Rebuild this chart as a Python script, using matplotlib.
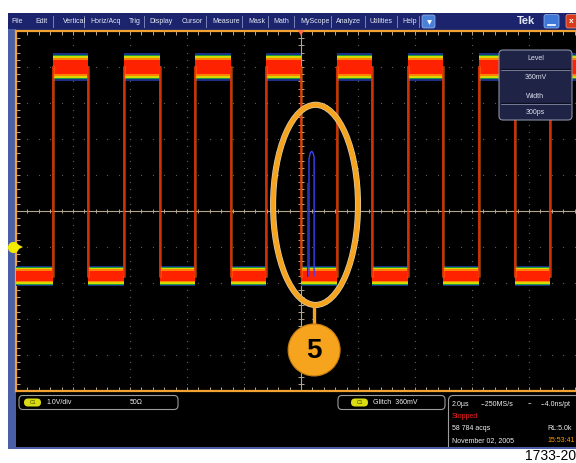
import numpy as np
import matplotlib.pyplot as plt
from matplotlib.patches import Rectangle, FancyBboxPatch, Ellipse

plt.rcParams['font.family'] = ['Liberation Sans', 'DejaVu Sans']

# ---- data (time in us, level in V, 2 us/div, 1 V/div) ----
rise_us = [-8.70, -6.21, -3.72, -1.23, 1.26, 3.75, 6.24, 8.74]
fall_us = [-7.47, -4.96, -2.47, 0.0, 2.49, 4.98, 7.51]
high_v = 5.0
low_v = -0.8
high_spread = 0.38   # half width of the persistence band
low_spread = 0.28
glitch_t = [0.28, 0.28, 0.30, 0.33, 0.38, 0.43, 0.46, 0.46]
glitch_v = [-0.8, 2.45, 2.52, 2.62, 2.66, 2.60, 2.48, -0.8]
glitch_dim_t = [0.20, 0.20]
glitch_dim_v = [-0.8, 1.78]
ground_v = 0.0
trig_level_v = 0.36
trig_time_us = 0.0

menu_items = ['File', 'Edit', 'Vertical', 'Horiz/Acq', 'Trig', 'Display', 'Cursor',
              'Measure', 'Mask', 'Math', 'MyScope', 'Analyze', 'Utilities', 'Help']
menu_x = [11, 35, 63, 90, 129, 149, 182, 212, 248, 273, 300, 336, 370, 402]
menu_sep_x = [53, 84, 144, 206, 242, 268, 294, 331, 365, 397, 419]

W, H = 576, 463
fig = plt.figure(figsize=(W / 100, H / 100), dpi=100)
fig.patch.set_facecolor('white')

# background layer in pixel coordinates
bg = fig.add_axes([0, 0, 1, 1], zorder=0)
bg.set_xlim(0, W)
bg.set_ylim(H, 0)
bg.axis('off')


def rect(axes, x0, y0, x1, y1, color, **kw):
    axes.add_patch(Rectangle((x0, y0), x1 - x0, y1 - y0, facecolor=color,
                             edgecolor='none', **kw))


rect(bg, 8, 13, W, 29.5, '#1b246c')
rect(bg, 8, 29, 16, 448, '#4b5fa6')
rect(bg, 16, 391, W, 447, 'black')

for name, x in zip(menu_items, menu_x):
    bg.text(x, 21.5, name, color='#e6eaf6', fontsize=5, va='center', ha='left')
for x in menu_sep_x:
    bg.plot([x, x], [16, 27], color='#8a92c4', lw=0.6)
bg.add_patch(FancyBboxPatch((422, 15), 13, 13, boxstyle='round,pad=0,rounding_size=2',
                            fc='#4a80d8', ec='#9ab8ee', lw=0.5))
bg.plot([428.5], [22], marker='v', color='white', ms=3.5, mew=0)
bg.text(517, 21, 'Tek', color='#e2e6f2', fontsize=8, fontweight='bold', va='center')
bg.add_patch(FancyBboxPatch((544, 14.5), 15, 13.5, boxstyle='round,pad=0,rounding_size=2',
                            fc='#3d78d8', ec='#9ab8ee', lw=0.5))
bg.plot([548, 555], [24.5, 24.5], color='white', lw=1.2)
bg.add_patch(FancyBboxPatch((566, 14.5), 16, 13.5, boxstyle='round,pad=0,rounding_size=2',
                            fc='#d83a1a', ec='#f0a090', lw=0.5))
bg.text(571, 21.5, 'x', color='white', fontsize=6, fontweight='bold', va='center', ha='center')

# ---- graticule ----
ax = fig.add_axes([16 / W, (H - 391) / H, 570 / W, 360 / H], zorder=1)
ax.set_facecolor('black')
ax.set_xlim(-10, 10)
ax.set_ylim(-4, 6)
ax.set_xticks([])
ax.set_yticks([])
for side in ['top', 'left', 'bottom']:
    ax.spines[side].set_color('#f2a232')
    ax.spines[side].set_linewidth(1.6)
ax.spines['right'].set_visible(False)

grid_c = '#5c5c5c'
tan = '#b4a68e'
x_minor = np.arange(-10, 10.01, 0.4)
y_minor = np.arange(-4, 6.01, 0.2)
for xv in np.arange(-8, 9, 2):
    if xv != 0:
        ax.plot(np.full_like(y_minor, xv), y_minor, ls='none', marker='s', ms=0.8,
                mew=0, color=grid_c)
for yv in np.arange(-3, 6, 1):
    if yv != 1:
        ax.plot(x_minor, np.full_like(x_minor, yv), ls='none', marker='s', ms=0.8,
                mew=0, color=grid_c)

ax.axhline(1, color=tan, lw=0.8)
ax.axvline(0, color=tan, lw=0.8)
ax.plot(x_minor, np.full_like(x_minor, 1), ls='none', marker='|', ms=3, mew=0.7, color=tan)
ax.plot(np.zeros_like(y_minor), y_minor, ls='none', marker='_', ms=4, mew=0.7, color=tan)
# edge ticks
ax.plot(x_minor, np.full_like(x_minor, 6), ls='none', marker='|', ms=6, mew=0.7, color=tan)
ax.plot(x_minor, np.full_like(x_minor, -4), ls='none', marker='|', ms=6, mew=0.7, color=tan)
ax.plot(np.full_like(y_minor, -10), y_minor, ls='none', marker='_', ms=6, mew=0.7, color=tan)

# ---- color graded square wave ----
grade = [(1.0, '#1c2f86'), (0.9, '#1f9a3a'), (0.78, '#d6d800'),
         (0.64, '#ff8200'), (0.5, '#ff2200')]
edges = sorted([(t, high_v) for t in rise_us] + [(t, low_v) for t in fall_us])
bounds = [-10.0] + [t for t, _ in edges] + [10.0]
levels = [low_v] + [lv for _, lv in edges]
for a, b, lv in zip(bounds[:-1], bounds[1:], levels):
    spread = high_spread if lv == high_v else low_spread
    for frac, col in grade:
        ax.fill_between([a, b], lv - frac * spread, lv + frac * spread,
                        color=col, lw=0, zorder=3)
for t, _ in edges:
    ax.plot([t, t], [low_v, high_v], color='#ff7a00', lw=1.8, zorder=4, alpha=0.6)
    ax.plot([t, t], [low_v, high_v], color='#e02a08', lw=1.1, zorder=4)

ax.plot(glitch_dim_t, glitch_dim_v, color='#2626a8', lw=0.8, zorder=5)
ax.plot(glitch_t, glitch_v, color='#3c40ff', lw=1.0, zorder=5)

# markers
yax = ax.get_yaxis_transform()
ax.plot([-0.006], [ground_v], transform=yax, marker='o', ms=8, color='#f4ea00',
        mew=0, clip_on=False, zorder=6)
ax.plot([0.006], [ground_v], transform=yax, marker='>', ms=6, color='#f4ea00',
        mew=0, clip_on=False, zorder=6)
ax.plot([1.0], [trig_level_v], transform=yax, marker='o', ms=7, color='#f4ea00',
        mew=0, clip_on=False, zorder=6)
ax.plot([0.99], [trig_level_v], transform=yax, marker='<', ms=6, color='#f4ea00',
        mew=0, clip_on=False, zorder=6)
xax = ax.get_xaxis_transform()
ax.plot([trig_time_us], [0.995], transform=xax, marker='v', ms=5, color='#ff6a4a',
        mew=0, clip_on=False, zorder=6)

# callout
orange = '#f6a31e'
ax.add_patch(Ellipse((0.51, 1.17), 2.98, 5.56, fill=False, ec='#d8ccb4', lw=4.4, zorder=7))
ax.add_patch(Ellipse((0.51, 1.17), 2.98, 5.56, fill=False, ec=orange, lw=3.4, zorder=7))
ax.plot([0.46, 0.46], [-1.62, -2.2], color=orange, lw=2.4, zorder=7)
ax.add_patch(Ellipse((0.46, -2.86), 52 / 28.5, 52 / 36, fc=orange, ec='#c47c12',
                     lw=0.8, zorder=8))
ax.text(0.46, -2.88, '5', fontsize=20, fontweight='bold', color='black',
        ha='center', va='center', zorder=9)

# ---- overlay layer ----
ov = fig.add_axes([0, 0, 1, 1], zorder=2)
ov.set_xlim(0, W)
ov.set_ylim(H, 0)
ov.axis('off')
ov.patch.set_alpha(0)

ov.add_patch(FancyBboxPatch((499, 50), 73, 70, boxstyle='round,pad=0,rounding_size=4',
                            fc='#1f2446', ec='#8a90a8', lw=0.8))
for y in [69, 103]:
    ov.plot([501, 570], [y, y], color='#0c0f22', lw=0.9)
    ov.plot([501, 570], [y + 0.9, y + 0.9], color='#9ca2b8', lw=0.5)
for txt, y in [('Level', 59), ('360mV', 77.5), ('Width', 96), ('300ps', 113)]:
    ov.text(535.5, y, txt, color='#dde1ee', fontsize=5, ha='center', va='center')

# status bar
txt_c = '#f0f0f0'
for x0, w in [(19, 159), (338, 107)]:
    ov.add_patch(FancyBboxPatch((x0, 395.5), w, 14, boxstyle='round,pad=0,rounding_size=4',
                                fc='black', ec='#9c9c9c', lw=0.8))
for x0 in [24, 351]:
    ov.add_patch(FancyBboxPatch((x0, 398.5), 17, 8, boxstyle='round,pad=0,rounding_size=4',
                                fc='#dcdc12', ec='none'))
    ov.text(x0 + 8.5, 402.7, 'C1', color='#3a3a00', fontsize=3.6, ha='center', va='center')
ov.text(46, 402.5, '1.0V/div', color=txt_c, fontsize=5, va='center')
ov.text(130, 402.5, '50\u03a9', color=txt_c, fontsize=5, va='center')
ov.text(373, 402.5, 'Glitch  360mV', color=txt_c, fontsize=5, va='center')

ov.add_patch(FancyBboxPatch((448.5, 395.5), 140, 60, boxstyle='round,pad=0,rounding_size=5',
                            fc='black', ec='#9c9c9c', lw=0.8))
ov.text(452, 404, '2.0\u00b5s', color=txt_c, fontsize=5, va='center')
ov.text(481, 404, '--250MS/s', color=txt_c, fontsize=5, va='center')
ov.text(528, 404, '--', color=txt_c, fontsize=5, va='center')
ov.text(541, 404, '--4.0ns/pt', color=txt_c, fontsize=5, va='center')
ov.text(452, 416, 'Stopped', color='#ff2020', fontsize=5, va='center')
ov.text(452, 429, '58 784 acqs', color=txt_c, fontsize=5, va='center')
ov.text(572, 429, 'RL:5.0k', color=txt_c, fontsize=5, va='center', ha='right')
ov.text(452, 441, 'November 02, 2005', color=txt_c, fontsize=5, va='center')
ov.text(575, 441, '15:53:41', color='#ff9a00', fontsize=5, va='center', ha='right')

# cut the status panel off at its lower edge, then the figure number below
rect(ov, 0, 448.5, W, H, 'white')
rect(ov, 8, 447, W, 448.5, '#4b5fa6')
ov.text(576, 455.5, '1733-20', color='black', fontsize=10, va='center', ha='right')

fig.savefig('out.png', dpi=100, facecolor='white')
